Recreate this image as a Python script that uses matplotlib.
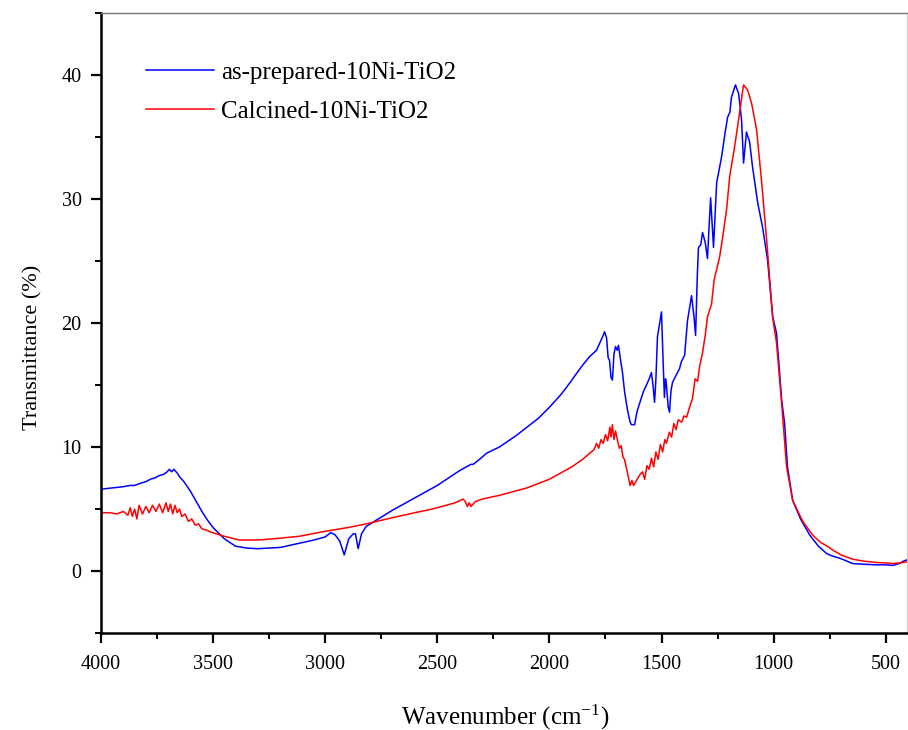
"""FTIR spectra of as-prepared vs calcined 10Ni-TiO2."""

import matplotlib

matplotlib.use("Agg")
import matplotlib.pyplot as plt
from matplotlib.ticker import MultipleLocator

plt.rcParams["font.family"] = ["Liberation Serif", "DejaVu Serif"]
plt.rcParams["mathtext.default"] = "regular"

# as-prepared-10Ni-TiO2 (wavenumber, transmittance %)
blue_wn = [4000, 3950, 3900, 3870, 3850, 3820, 3800, 3780, 3760, 3740, 3720, 3705,
           3695, 3685, 3675, 3660, 3650, 3630, 3600, 3575, 3550, 3525, 3500, 3450,
           3400, 3350, 3300, 3250, 3200, 3150, 3100, 3050, 3000, 2975, 2955, 2935,
           2915, 2895, 2875, 2865, 2853, 2838, 2817, 2772, 2700, 2600, 2500, 2400,
           2370, 2350, 2340, 2312, 2280, 2223, 2150, 2100, 2050, 2000, 1950, 1924,
           1880, 1852, 1820, 1790, 1770, 1760, 1754, 1745, 1738, 1732, 1725, 1719,
           1712, 1705, 1698, 1692, 1685, 1674, 1665, 1652, 1640, 1634, 1620, 1610,
           1598, 1580, 1567, 1555, 1545, 1538, 1531, 1525, 1518, 1500, 1493, 1487,
           1482, 1478, 1470, 1464, 1458, 1451, 1440, 1429, 1420, 1411, 1397, 1384,
           1366, 1355, 1348, 1340, 1335, 1325, 1317, 1305, 1295, 1281, 1268, 1254,
           1232, 1215, 1205, 1195, 1188, 1170, 1156, 1143, 1134, 1121, 1107, 1094,
           1071, 1049, 1027, 1004, 987, 964, 951, 938, 915, 880, 839, 800, 763, 737,
           700, 647, 600, 550, 500, 469, 440, 420, 405]
blue_t = [6.6, 6.7, 6.8, 6.9, 6.9, 7.1, 7.2, 7.4, 7.5, 7.7, 7.8, 8.0,
          8.2, 8.0, 8.2, 7.9, 7.6, 7.2, 6.4, 5.6, 4.8, 4.1, 3.5, 2.6,
          2.0, 1.85, 1.8, 1.85, 1.9, 2.1, 2.3, 2.5, 2.75, 3.1, 2.9, 2.4,
          1.3, 2.6, 3.0, 3.0, 1.8, 3.0, 3.6, 4.1, 4.9, 5.9, 6.9, 8.1,
          8.4, 8.6, 8.6, 9.0, 9.5, 10.0, 10.9, 11.6, 12.3, 13.2, 14.2, 14.8,
          15.9, 16.6, 17.3, 17.8, 18.6, 19.0, 19.3, 18.8, 17.2, 17.0, 15.6, 15.4,
          17.5, 18.1, 17.8, 18.2, 17.3, 16.0, 14.5, 13.0, 12.0, 11.8, 11.8, 12.8,
          13.5, 14.5, 15.0, 15.5, 16.0, 15.0, 13.6, 15.5, 18.9, 20.9, 17.0, 14.0,
          15.5, 15.0, 13.2, 12.8, 14.5, 15.2, 15.6, 16.0, 16.3, 16.9, 17.4, 20.2,
          22.2, 20.5, 19.0, 24.0, 26.1, 26.3, 27.3, 26.5, 25.2, 30.1, 26.1, 31.3,
          33.4, 35.5, 36.6, 37.0, 38.2, 39.2, 38.5, 36.4, 32.9, 35.4, 34.6, 32.6,
          29.7, 27.7, 25.1, 20.5, 19.2, 13.8, 11.9, 8.4, 5.7, 4.2, 2.9, 2.0, 1.4, 1.2,
          1.0, 0.6, 0.55, 0.5, 0.5, 0.45, 0.6, 0.8, 0.9]

# Calcined-10Ni-TiO2
red_wn = [4000, 3960, 3930, 3900, 3880, 3870, 3860, 3850, 3840, 3830, 3815, 3800,
          3785, 3770, 3755, 3740, 3725, 3710, 3700, 3690, 3680, 3670, 3660, 3650,
          3640, 3625, 3610, 3595, 3580, 3565, 3550, 3530, 3504, 3450, 3384, 3300,
          3263, 3200, 3116, 3000, 2900, 2817, 2700, 2600, 2522, 2420, 2385, 2375,
          2366, 2358, 2350, 2330, 2300, 2223, 2100, 2000, 1900, 1852, 1820, 1800,
          1790, 1780, 1770, 1760, 1750, 1740, 1730, 1725, 1719, 1712, 1705, 1696,
          1688, 1680, 1672, 1665, 1655, 1648, 1640, 1632, 1625, 1615, 1605, 1595,
          1585, 1575, 1565, 1555, 1545, 1535, 1525, 1515, 1505, 1495, 1485, 1478,
          1465, 1455, 1445, 1435, 1425, 1410, 1400, 1388, 1375, 1362, 1350, 1339,
          1330, 1317, 1305, 1295, 1277, 1265, 1241, 1225, 1210, 1196, 1174, 1152,
          1140, 1134, 1125, 1116, 1098, 1076, 1054, 1031, 1004, 987, 964, 942, 915,
          870, 826, 790, 760, 737, 700, 647, 600, 550, 500, 469, 440, 420, 405]
red_t = [4.7, 4.7, 4.6, 4.8, 4.5, 5.1, 4.4, 5.0, 4.2, 5.3, 4.6, 5.2,
         4.7, 5.3, 4.8, 5.4, 4.7, 5.5, 4.8, 5.4, 4.6, 5.3, 4.7, 5.0,
         4.4, 4.6, 4.0, 4.2, 3.7, 3.8, 3.4, 3.3, 3.1, 2.8, 2.5, 2.5,
         2.55, 2.65, 2.8, 3.2, 3.5, 3.8, 4.3, 4.7, 5.0, 5.5, 5.8, 5.6,
         5.2, 5.5, 5.2, 5.6, 5.8, 6.1, 6.7, 7.4, 8.4, 9.0, 9.5, 9.8,
         10.3, 9.9, 10.6, 10.3, 11.0, 10.5, 11.6, 10.8, 11.8, 10.6, 11.3, 10.5,
         9.9, 10.1, 9.2, 9.0, 8.2, 7.6, 6.9, 7.3, 6.9, 7.2, 7.5, 7.8,
         8.0, 7.4, 8.5, 8.2, 9.1, 8.4, 9.6, 9.0, 10.2, 9.6, 10.6, 10.3,
         11.2, 10.8, 11.9, 11.4, 12.2, 12.0, 12.5, 12.4, 13.2, 13.9, 15.5, 15.3,
         16.5, 17.6, 19.0, 20.5, 21.5, 23.5, 25.3, 27.2, 29.1, 31.8, 34.2, 36.9,
         38.5, 39.2, 39.0, 38.8, 37.7, 35.6, 31.5, 26.7, 20.4, 18.4, 13.5, 8.4, 5.7,
         4.0, 2.9, 2.3, 2.0, 1.7, 1.3, 0.95, 0.8, 0.7, 0.65, 0.6, 0.65, 0.7, 0.75]


def main() -> None:
    fig = plt.figure(figsize=(9.08, 7.30), dpi=100)
    ax = fig.add_axes([101 / 908, 1 - 633 / 730, 806 / 908, 620 / 730])

    ax.plot(blue_wn, blue_t, color="#0000ff", linewidth=1.1,
            label="as-prepared-10Ni-TiO2")
    ax.plot(red_wn, red_t, color="#ff0000", linewidth=1.1,
            label="Calcined-10Ni-TiO2")

    ax.set_xlim(4000, 405)
    ax.set_ylim(-5, 45)
    ax.xaxis.set_major_locator(MultipleLocator(500))
    ax.xaxis.set_minor_locator(MultipleLocator(250))
    ax.yaxis.set_major_locator(MultipleLocator(10))
    ax.yaxis.set_minor_locator(MultipleLocator(5))
    ax.tick_params(which="major", direction="out", length=7, width=1.6,
                   labelsize=14.5)
    ax.tick_params(which="minor", direction="out", length=4, width=1.4)
    ax.tick_params(axis="x", which="major", pad=9)
    ax.tick_params(axis="y", which="major", pad=7)

    for side in ("left", "bottom"):
        ax.spines[side].set_linewidth(1.8)
        ax.spines[side].set_color("black")
    ax.spines["top"].set_linewidth(1.0)
    ax.spines["top"].set_color("#777777")
    ax.spines["right"].set_linewidth(0.8)
    ax.spines["right"].set_color("#cccccc")

    ax.set_ylabel("Transmittance (%)", fontsize=16)
    ax.yaxis.set_label_coords(-0.073, 0.46)
    ax.set_xlabel(r"Wavenumber (cm$^{-1}$)", fontsize=18)
    ax.xaxis.set_label_coords(0.501, -0.112)

    ax.legend(loc="upper left", bbox_to_anchor=(146 / 908, 1 - 61 / 730),
              bbox_transform=fig.transFigure, frameon=False, fontsize=18,
              handlelength=2.7, handletextpad=0.3, labelspacing=0.66,
              borderpad=0, borderaxespad=0)

    fig.savefig("out.png", dpi=100)
    plt.close(fig)


if __name__ == "__main__":
    main()
